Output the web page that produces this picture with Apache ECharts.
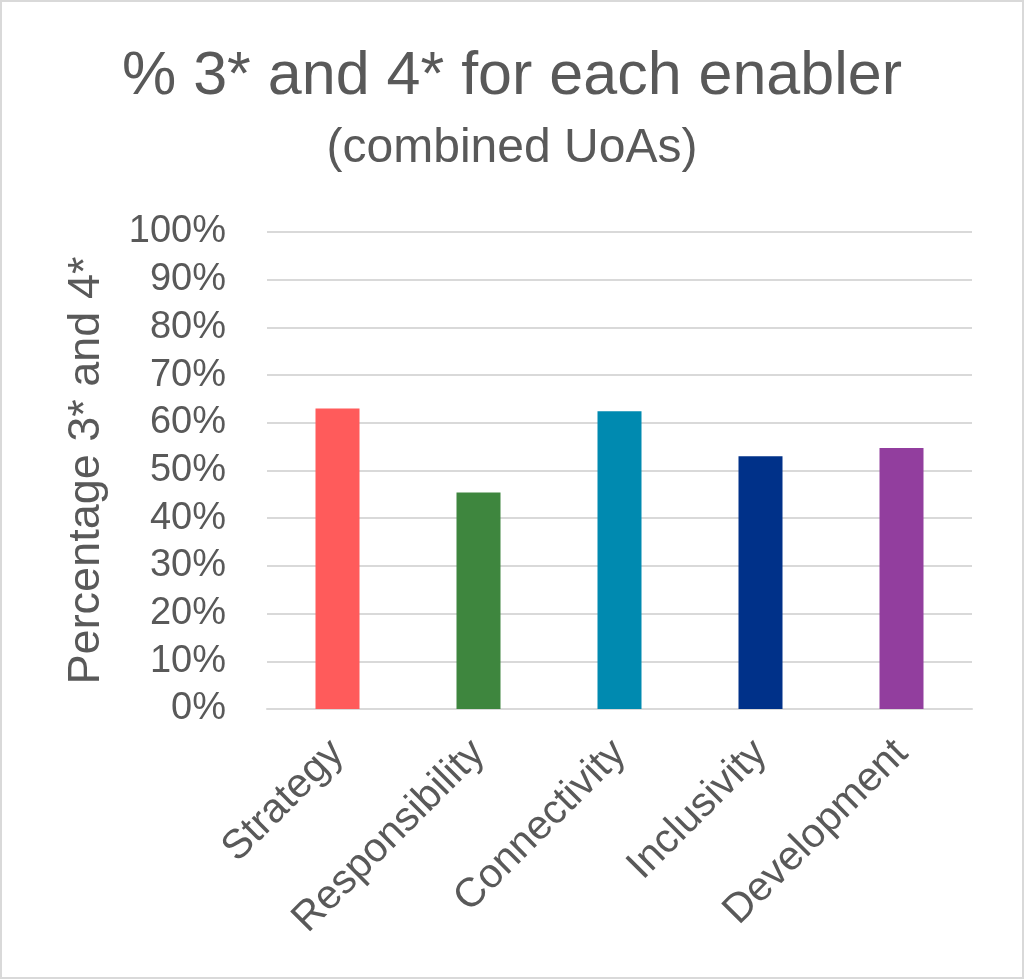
<!DOCTYPE html>
<html>
<head>
<meta charset="utf-8">
<script src="https://cdn.jsdelivr.net/npm/echarts@6/dist/echarts.min.js"></script>
<style>
html,body{margin:0;padding:0;background:#fff;}
#c{width:1024px;height:979px;}
</style>
</head>
<body>
<div id="c"></div>
<script>
const categories = ['Strategy', 'Responsibility', 'Connectivity', 'Inclusivity', 'Development'];
const values = [63.0, 45.4, 62.4, 53.0, 54.7];
const barColors = ['#FF5B5B', '#3E863E', '#008AB0', '#003189', '#923E9E'];
const yTicks = [0, 10, 20, 30, 40, 50, 60, 70, 80, 90, 100];

const chart = echarts.init(document.getElementById('c'));
const FONT = '"Liberation Sans", Arial, sans-serif';
const TXT = '#595959';

chart.setOption({
  animation: false,
  backgroundColor: '#fff',
  graphic: [{
    type: 'rect',
    shape: { x: 1, y: 1, width: 1022, height: 977 },
    style: { fill: 'none', stroke: '#d9d9d9', lineWidth: 2 },
    silent: true
  }],
  title: [{
    text: '% 3* and 4* for each enabler',
    left: 'center',
    top: 42,
    textStyle: { fontFamily: FONT, fontSize: 61, fontWeight: 'normal', color: TXT }
  }, {
    text: '(combined UoAs)',
    left: 'center',
    top: 120,
    textStyle: { fontFamily: FONT, fontSize: 48, fontWeight: 'normal', color: TXT }
  }],
  grid: { left: 267, right: 52, top: 232, bottom: 270, containLabel: false },
  xAxis: {
    type: 'category',
    data: categories,
    axisLine: { show: true, lineStyle: { color: '#d9d9d9', width: 2 } },
    axisTick: { show: false },
    axisLabel: { rotate: 45, margin: 38, fontFamily: FONT, fontSize: 41, color: TXT, interval: 0 }
  },
  yAxis: {
    type: 'value',
    min: 0, max: 100, interval: 10,
    name: 'Percentage 3* and 4*',
    nameLocation: 'middle',
    nameGap: 158,
    nameTextStyle: { fontFamily: FONT, fontSize: 45, color: TXT },
    axisLine: { show: false },
    axisTick: { show: false },
    splitLine: { lineStyle: { color: '#d9d9d9', width: 2 } },
    axisLabel: {
      margin: 41, fontFamily: FONT, fontSize: 38, color: TXT,
      formatter: v => yTicks.includes(v) ? v + '%' : ''
    }
  },
  series: [{
    type: 'bar',
    data: values.map((v, i) => ({ value: v, itemStyle: { color: barColors[i] } })),
    barWidth: 44
  }]
});
</script>
</body>
</html>
